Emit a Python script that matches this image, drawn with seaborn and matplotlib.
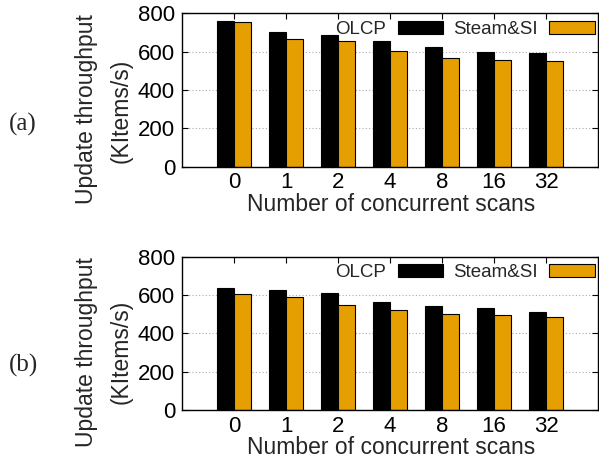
import matplotlib
matplotlib.use("Agg")
import matplotlib.pyplot as plt
import seaborn as sns
import pandas as pd

categories = ["0", "1", "2", "4", "8", "16", "32"]
series_names = ["OLCP", "Steam&SI"]
olcp_a = [762, 704, 689, 659, 624, 600, 593]
steam_a = [757, 666, 654, 605, 570, 557, 551]
olcp_b = [635, 624, 609, 562, 541, 530, 510]
steam_b = [603, 588, 550, 522, 499, 496, 485]
y_ticks = [0, 200, 400, 600, 800]
panel_labels = ["(a)", "(b)"]

sns.set_style("ticks")
plt.rcParams["font.family"] = ["Liberation Sans", "DejaVu Sans"]

W, H = 599, 459
fig = plt.figure(figsize=(W / 100, H / 100), dpi=100)

colors = ["#000000", "#E69F00"]
TICK_FS = 16
LABEL_FS = 16.5
LEG_FS = 13.5


def make_df(olcp, steam):
    rows = []
    for c, v in zip(categories, olcp):
        rows.append({"scans": c, "tput": v, "system": series_names[0]})
    for c, v in zip(categories, steam):
        rows.append({"scans": c, "tput": v, "system": series_names[1]})
    return pd.DataFrame(rows)


panels = [
    (olcp_a, steam_a, 13.5, 166.7, 124, 109, 111),
    (olcp_b, steam_b, 256.7, 410.0, 365, 352, 352),
]

for i, (olcp, steam, top_px, bot_px, lab_y, yl1, yl2) in enumerate(panels):
    left_px, right_px = 182, 598
    ax = fig.add_axes([left_px / W, 1 - bot_px / H,
                       (right_px - left_px) / W, (bot_px - top_px) / H])
    df = make_df(olcp, steam)
    sns.barplot(data=df, x="scans", y="tput", hue="system", order=categories,
                hue_order=series_names, palette=colors, width=0.66, gap=0.04,
                edgecolor="black", linewidth=0.8, ax=ax, saturation=1)
    ax.set_xlim(-1, 7)
    ax.set_ylim(0, 800)
    ax.set_yticks(y_ticks)
    ax.set_axisbelow(True)
    ax.yaxis.grid(True, linestyle=(0, (1, 2)), color="#aaaaaa", linewidth=0.8)
    ax.tick_params(axis="both", direction="in", length=4, width=0.8,
                   top=True, right=True, labelsize=TICK_FS, colors="black")
    ax.tick_params(axis="y", pad=5)
    ax.tick_params(axis="x", pad=4)
    for s in ax.spines.values():
        s.set_visible(True)
        s.set_color("black")
        s.set_linewidth(1.0)

    ax.set_ylabel("")
    ax.set_xlabel("Number of concurrent scans", fontsize=LABEL_FS)
    ax.xaxis.set_label_coords((391 - left_px) / (right_px - left_px),
                              (bot_px - (bot_px + 26)) / (bot_px - top_px))

    fig.text(86 / W, 1 - yl1 / H, "Update throughput", rotation=90,
             ha="center", va="center", fontsize=LABEL_FS)
    fig.text(121 / W, 1 - yl2 / H, "(KItems/s)", rotation=90,
             ha="center", va="center", fontsize=LABEL_FS)
    fig.text(23 / W, 1 - lab_y / H, panel_labels[i], ha="center", va="center",
             fontsize=18, family=["Liberation Serif", "DejaVu Serif"])

    handles, labels = ax.get_legend_handles_labels()
    if ax.get_legend() is not None:
        ax.get_legend().remove()
    ax.legend(handles, labels, ncol=2, markerfirst=False, frameon=False,
              loc="center right",
              bbox_to_anchor=((595 - left_px) / (right_px - left_px),
                              1 - 16 / (bot_px - top_px)),
              borderaxespad=0, borderpad=0, fontsize=LEG_FS,
              handlelength=2.45, handleheight=0.69, handletextpad=0.59,
              columnspacing=0.53)

fig.savefig("out.png", dpi=100)
